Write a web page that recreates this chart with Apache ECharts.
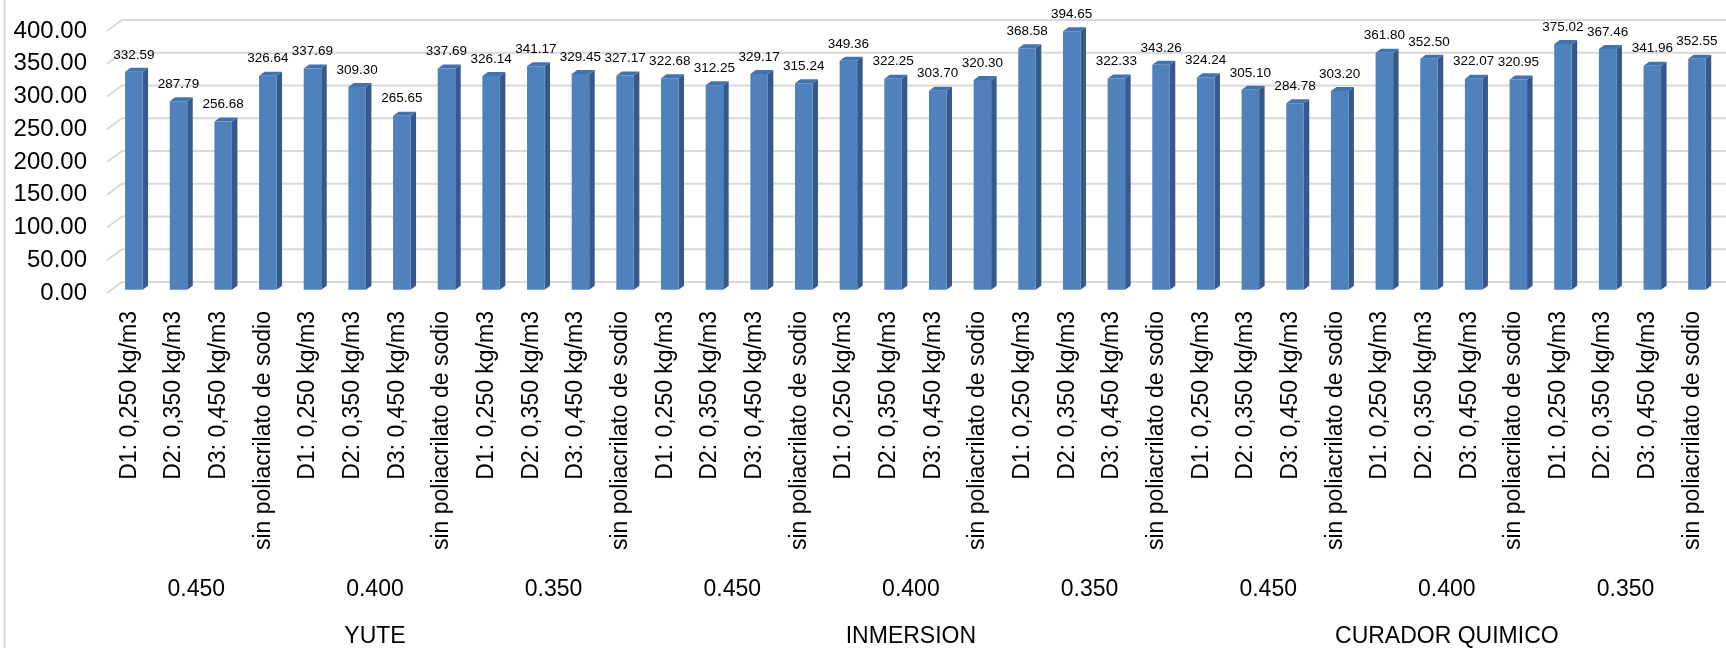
<!DOCTYPE html>
<html>
<head>
<meta charset="utf-8">
<script src="https://cdn.jsdelivr.net/npm/echarts@6/dist/echarts.min.js"></script>
<style>
html,body{margin:0;padding:0;background:#fff;}
#chart{width:1726px;height:648px;}
</style>
</head>
<body>
<div id="chart"></div>
<script>
// ---- data ----
var dosages = ['D1: 0,250 kg/m3', 'D2: 0,350 kg/m3', 'D3: 0,450 kg/m3', 'sin poliacrilato de sodio'];
var ratios = ['0.450', '0.400', '0.350'];
var curing = ['YUTE', 'INMERSION', 'CURADOR QUIMICO'];
var yute = [332.59, 287.79, 256.68, 326.64, 337.69, 309.30, 265.65, 337.69, 326.14, 341.17, 329.45, 327.17];
var inmersion = [322.68, 312.25, 329.17, 315.24, 349.36, 322.25, 303.70, 320.30, 368.58, 394.65, 322.33, 343.26];
var curador = [324.24, 305.10, 284.78, 303.20, 361.80, 352.50, 322.07, 320.95, 375.02, 367.46, 341.96, 352.55];
var yTicks = [0, 50, 100, 150, 200, 250, 300, 350, 400];

// ---- build ----
var categories = [];
var ratioLabels = [];
curing.forEach(function () {
  ratios.forEach(function (r) {
    ratioLabels.push(r);
    dosages.forEach(function (d) { categories.push(d); });
  });
});
var values = yute.concat(inmersion, curador);
var barData = values.map(function (v, i) { return [i, v]; });
var gridData = yTicks.map(function (v) { return [0, v]; });

var FONT = "'Liberation Sans', Arial, sans-serif";
var chart = echarts.init(document.getElementById('chart'), null, {renderer: 'canvas'});

var option = {
  backgroundColor: '#ffffff',
  animation: false,
  graphic: [{
    type: 'line', z: 0,
    shape: {x1: 4.5, y1: 0, x2: 4.5, y2: 648},
    style: {stroke: '#d9d9d9', lineWidth: 2}
  }],
  grid: {left: 107, top: 31, width: 1607.8, height: 262.3, containLabel: false},
  xAxis: [{
    type: 'category', data: categories, gridIndex: 0, position: 'bottom',
    axisLine: {show: false}, axisTick: {show: false},
    axisLabel: {interval: 0, rotate: 90, margin: 18, fontSize: 23, color: '#000', fontFamily: FONT}
  }, {
    type: 'category', data: ratioLabels, gridIndex: 0, position: 'bottom', offset: 277,
    axisLine: {show: false}, axisTick: {show: false},
    axisLabel: {interval: 0, margin: 8, fontSize: 23, color: '#000', fontFamily: FONT}
  }, {
    type: 'category', data: curing, gridIndex: 0, position: 'bottom', offset: 324,
    axisLine: {show: false}, axisTick: {show: false},
    axisLabel: {interval: 0, margin: 8, fontSize: 23, color: '#000', fontFamily: FONT}
  }],
  yAxis: {
    type: 'value', min: 0, max: 400, interval: 50,
    axisLine: {show: false}, axisTick: {show: false}, splitLine: {show: false},
    axisLabel: {margin: 20, fontSize: 24, color: '#000', fontFamily: FONT,
      formatter: function (v) { return v.toFixed(2); }}
  },
  series: [{
    type: 'custom', name: 'grid', xAxisIndex: 0, yAxisIndex: 0, z: 1, silent: true,
    data: gridData,
    renderItem: function (params, api) {
      var p = api.coord([0, api.value(1)]);
      var cs = params.coordSys;
      var left = cs.x, right = cs.x + cs.width;
      return {
        type: 'polyline',
        shape: {points: [[left, p[1]], [left + 15, p[1] - 11], [right + 15, p[1] - 11]]},
        style: {stroke: '#d9d9d9', lineWidth: 2, fill: null}
      };
    }
  }, {
    type: 'custom', name: 'bars', xAxisIndex: 0, yAxisIndex: 0, z: 5, silent: true,
    data: barData,
    renderItem: function (params, api) {
      var v = api.value(1);
      var b = api.coord([api.value(0), 0]);
      var t = api.coord([api.value(0), v]);
      var cx = b[0] + 4.5, w = 17.5, dx = 5.5, dy = -4;
      var y0 = b[1] - 3.3, y1 = t[1] - 3.3;
      var l = cx - w / 2, r = cx + w / 2;
      return {
        type: 'group',
        children: [{
          type: 'polygon',
          shape: {points: [[r, y1], [r + dx, y1 + dy], [r + dx, y0 + dy], [r, y0]]},
          style: {fill: '#35598a'}
        }, {
          type: 'polygon',
          shape: {points: [[l, y1], [l + dx, y1 + dy], [r + dx, y1 + dy], [r, y1]]},
          style: {fill: '#4372b0'}
        }, {
          type: 'rect',
          shape: {x: l, y: y1, width: w, height: y0 - y1},
          style: {fill: '#4f81bd'}
        }, {
          type: 'text',
          style: {x: cx, y: y1 - 10, text: v.toFixed(2), align: 'center', verticalAlign: 'bottom',
            fontSize: 13.5, fontFamily: FONT, fill: '#000'}
        }]
      };
    }
  }]
};
chart.setOption(option);
</script>
</body>
</html>
